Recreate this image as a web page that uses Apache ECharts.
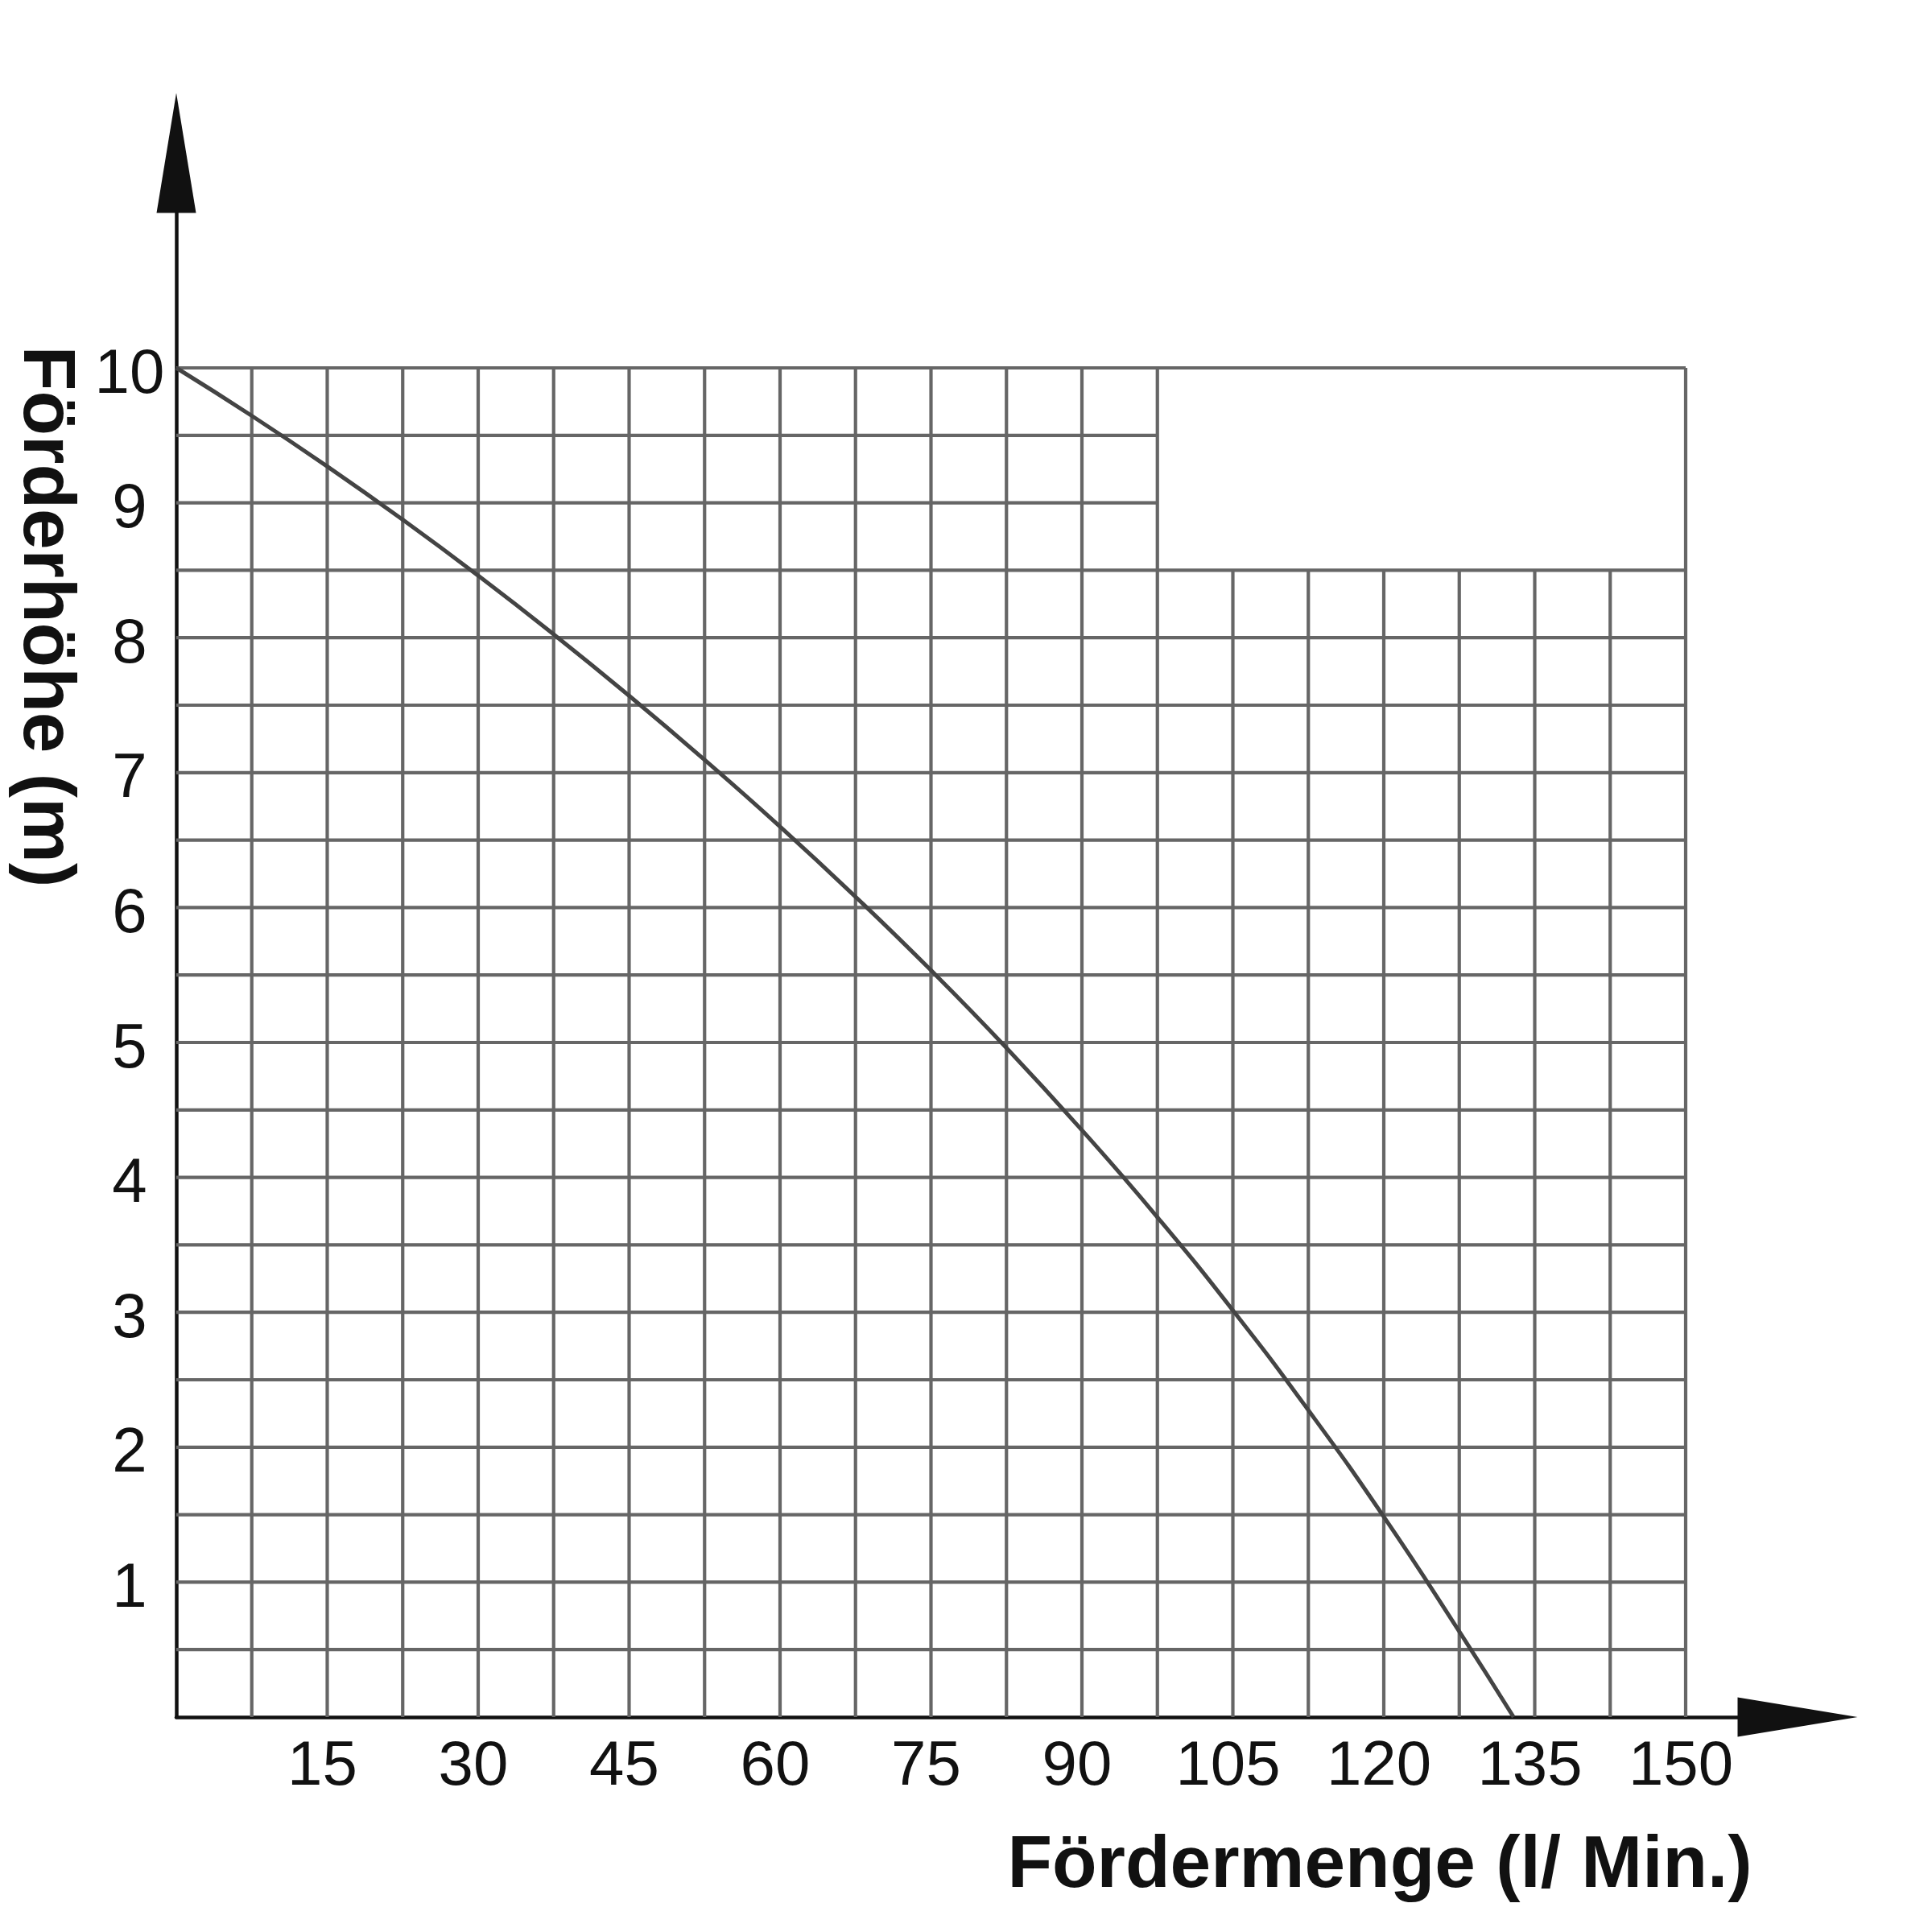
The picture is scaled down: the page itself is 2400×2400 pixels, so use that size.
<!DOCTYPE html>
<html>
<head>
<meta charset="utf-8">
<title>Förderhöhe / Fördermenge</title>
<script src="https://cdn.jsdelivr.net/npm/echarts@6/dist/echarts.min.js"></script>
<style>
  html, body { margin: 0; padding: 0; background: #fff; }
  #chart { width: 2400px; height: 2400px; }
</style>
</head>
<body>
<div id="chart"></div>
<script>
// pump curve: flow (l/min) -> head (m)
const flow = [0, 7.5, 15, 22.5, 30, 37.5, 45, 52.5, 60, 67.5, 75, 82.5, 90, 97.5, 105, 112.5, 120, 127.5, 132.9]
const head = [10, 9.645, 9.27, 8.875, 8.46, 8.025, 7.57, 7.095, 6.6, 6.08, 5.535, 4.96, 4.35, 3.705, 3.015, 2.275, 1.485, 0.635, 0]

const xTicks = [15, 30, 45, 60, 75, 90, 105, 120, 135, 150]
const yTicks = [1, 2, 3, 4, 5, 6, 7, 8, 9, 10]

// paper grid: cell size, axis ends and the empty notch top right
const cellX = 7.5
const cellY = 0.5
const xMax = 150
const yMax = 10
const notchX = 97.5
const notchY = 8.5

const FONT = '"Liberation Sans", Arial, Helvetica, sans-serif'

// grid segments as [x1, y1, x2, y2] in data units
const gridSegments = []
for (let k = 1; k * cellX <= xMax; k++) {
  const x = k * cellX
  const top = (x > notchX && x < xMax) ? notchY : yMax
  gridSegments.push([x, 0, x, top])
}
for (let j = 1; j * cellY <= yMax; j++) {
  const y = j * cellY
  const right = (y > notchY && y < yMax) ? notchX : xMax
  gridSegments.push([0, y, right, y])
}

const chart = echarts.init(document.getElementById('chart'), null, { renderer: 'canvas' })

const arrowAxis = {
  show: true,
  symbol: ['none', 'triangle'],
  symbolSize: [49, 149],
  lineStyle: { color: '#111', width: 4.5 }
}

const option = {
  backgroundColor: '#fff',
  animation: false,
  grid: [
    // the plotting area
    { left: 219, right: 306, top: 457, bottom: 267 },
    // only carries the long arrow axes
    { left: 219, right: 167, top: 190, bottom: 267 }
  ],
  xAxis: [
    {
      type: 'value', gridIndex: 0, min: 0, max: xMax, interval: 15,
      axisLine: { show: false },
      axisTick: { show: false },
      splitLine: { show: false },
      axisLabel: {
        margin: 23,
        fontFamily: FONT,
        fontSize: 78,
        color: '#111',
        padding: [0, 12, 0, 0],
        showMinLabel: true,
        showMaxLabel: true,
        formatter: v => xTicks.includes(v) ? String(v) : ''
      }
    },
    {
      type: 'value', gridIndex: 1, min: 0, max: 1,
      axisLine: arrowAxis,
      axisTick: { show: false },
      axisLabel: { show: false },
      splitLine: { show: false }
    }
  ],
  yAxis: [
    {
      type: 'value', gridIndex: 0, min: 0, max: yMax, interval: 1,
      axisLine: { show: false },
      axisTick: { show: false },
      splitLine: { show: false },
      axisLabel: {
        margin: 58,
        align: 'center',
        // labels sit a little below their grid line in the original
        verticalAlign: 'top',
        lineHeight: 18,
        fontFamily: FONT,
        fontSize: 78,
        color: '#111',
        showMinLabel: true,
        showMaxLabel: true,
        formatter: v => yTicks.includes(v) ? String(v) : ''
      }
    },
    {
      type: 'value', gridIndex: 1, min: 0, max: 1,
      axisLine: arrowAxis,
      axisTick: { show: false },
      axisLabel: { show: false },
      splitLine: { show: false }
    }
  ],
  graphic: [
    {
      type: 'text',
      x: 55, y: 766,
      rotation: -Math.PI / 2,
      style: {
        text: 'Förderhöhe (m)',
        font: 'bold 91px ' + FONT,
        fill: '#111',
        align: 'center',
        verticalAlign: 'middle'
      }
    },
    {
      type: 'text',
      x: 1714, y: 2319,
      style: {
        text: 'Fördermenge (l/ Min.)',
        font: 'bold 91px ' + FONT,
        fill: '#111',
        align: 'center',
        verticalAlign: 'middle'
      }
    }
  ],
  series: [
    {
      type: 'custom',
      xAxisIndex: 0,
      yAxisIndex: 0,
      silent: true,
      z: 1,
      data: gridSegments,
      renderItem: (params, api) => {
        const p1 = api.coord([api.value(0), api.value(1)])
        const p2 = api.coord([api.value(2), api.value(3)])
        return {
          type: 'line',
          shape: { x1: p1[0], y1: p1[1], x2: p2[0], y2: p2[1] },
          style: { stroke: '#666', lineWidth: 4.2 }
        }
      }
    },
    {
      type: 'line',
      xAxisIndex: 0,
      yAxisIndex: 0,
      z: 3,
      smooth: 0.5,
      symbol: 'none',
      lineStyle: { color: '#444', width: 5 },
      data: flow.map((f, i) => [f, head[i]])
    }
  ]
}

chart.setOption(option)
</script>
</body>
</html>
